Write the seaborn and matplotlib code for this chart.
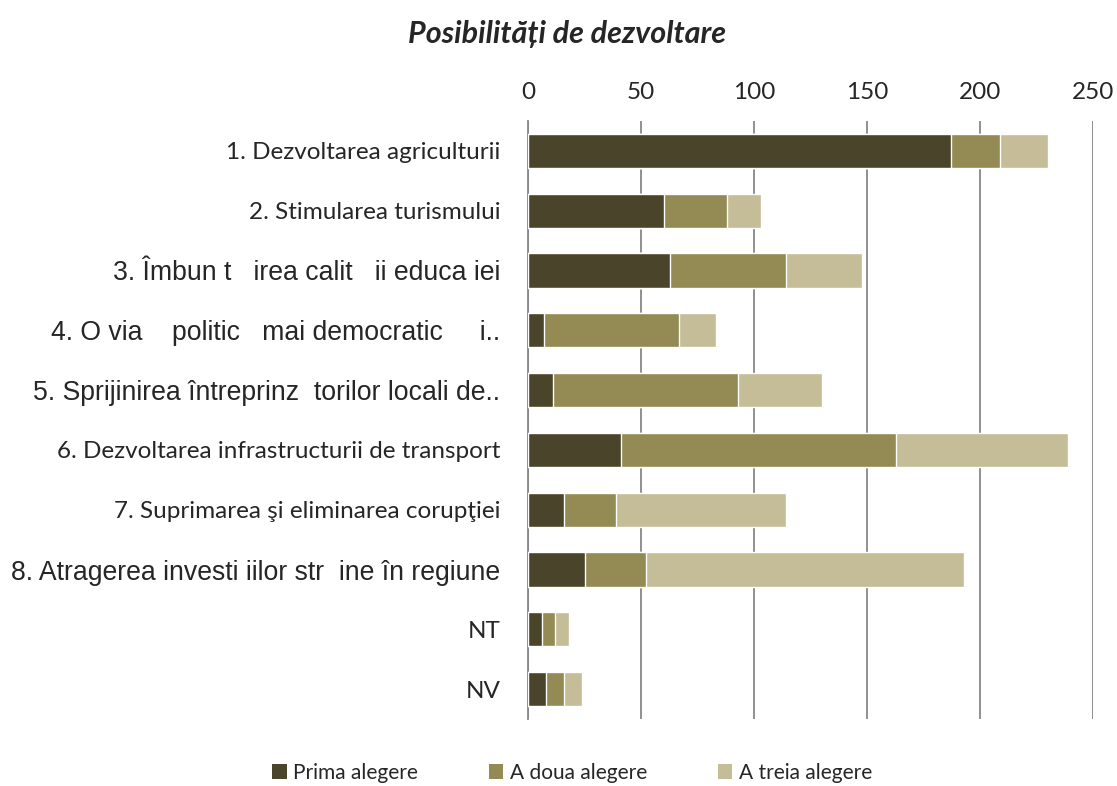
import matplotlib
matplotlib.use("Agg")
import matplotlib.pyplot as plt
import seaborn as sns
import pandas as pd
import numpy as np
from matplotlib.patches import Patch

categories = [
    "1. Dezvoltarea agriculturii",
    "2. Stimularea turismului",
    "3. Îmbun t   irea calit   ii educa iei",
    "4. O via    politic   mai democratic     i..",
    "5. Sprijinirea întreprinz  torilor locali de..",
    "6. Dezvoltarea infrastructurii de transport",
    "7. Suprimarea şi eliminarea corupţiei",
    "8. Atragerea investi iilor str  ine în regiune",
    "NT",
    "NV",
]
series_names = ["Prima alegere", "A doua alegere", "A treia alegere"]
prima = [187, 60, 63, 7, 11, 41, 16, 25, 6, 8]
adoua = [22, 28, 51, 60, 82, 122, 23, 27, 6, 8]
atreia = [21, 15, 34, 16, 37, 76, 75, 141, 6, 8]
xticks = [0, 50, 100, 150, 200, 250]

colors = ["#4A452A", "#948A54", "#C4BD97"]

sns.set_style("white")
plt.rcParams["font.family"] = ["Lato", "DejaVu Sans"]

fig = plt.figure(figsize=(11.17, 7.86), dpi=100)
ax = fig.add_axes([528 / 1117, 1 - 719 / 786, (1093 - 528) / 1117, (719 - 121) / 786])

df = pd.DataFrame({"cat": categories, "p": prima, "a": adoua, "t": atreia})
df["c1"] = df["p"]
df["c2"] = df["p"] + df["a"]
df["c3"] = df["p"] + df["a"] + df["t"]

for col, color in zip(["c3", "c2", "c1"], colors[::-1]):
    sns.barplot(data=df, y="cat", x=col, orient="h", color=color, width=0.57,
                edgecolor="white", linewidth=1.0, ax=ax, saturation=1, zorder=3)

ax.set_xlim(0, 250)
ax.set_xticks(xticks)
ax.xaxis.tick_top()
ax.tick_params(axis="x", length=0, pad=13, labelsize=17.5)
ax.tick_params(axis="y", length=0, pad=20)
ax.grid(axis="x", color="#878787", linewidth=1.3, zorder=0)
ax.set_axisbelow(True)
for s in ["top", "right", "bottom"]:
    ax.spines[s].set_visible(False)
ax.spines["left"].set_color("#878787")
ax.spines["left"].set_linewidth(1.3)
ax.set_xlabel("")
ax.set_ylabel("")

arial_idx = {2, 3, 4, 7}
for i, lab in enumerate(ax.get_yticklabels()):
    if i in arial_idx:
        lab.set_fontfamily(["Liberation Sans", "DejaVu Sans"])
        lab.set_fontsize(19.2)
    else:
        lab.set_fontfamily(["Lato", "DejaVu Sans"])
        lab.set_fontsize(17.5)

fig.text(567 / 1117, 1 - 34 / 786, "Posibilități de dezvoltare", ha="center", va="center",
         fontsize=22, fontweight="bold", fontstyle="italic")

handles = [Patch(facecolor=c, edgecolor="none") for c in colors]
fig.legend(handles, series_names, loc="center", bbox_to_anchor=(572 / 1117, 1 - 773 / 786),
           ncol=3, frameon=False, fontsize=15, handlelength=0.7, handleheight=0.7,
           handletextpad=0.3, columnspacing=3.4)

fig.savefig("out.png", dpi=100)
